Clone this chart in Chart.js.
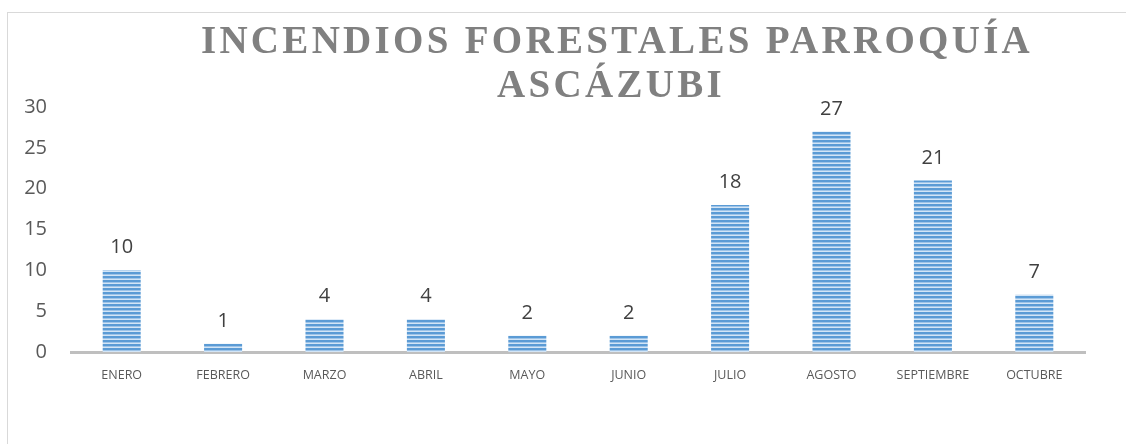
<!DOCTYPE html>
<html>
<head>
<meta charset="utf-8">
<script src="https://cdn.jsdelivr.net/npm/chart.js@4"></script>
<style>
  html, body { margin: 0; padding: 0; background: #fff; overflow: hidden; }
  #wrap { position: relative; width: 1126px; height: 444px; }
  #frame { position: absolute; left: 7px; top: 12px; width: 1200px; height: 500px;
           border-left: 1px solid #d9d9d9; border-top: 1px solid #d9d9d9; }
  canvas { position: absolute; left: 0; top: 0; }
</style>
</head>
<body>
<div id="wrap">
  <div id="frame"></div>
  <canvas id="incendios" width="1126" height="444"></canvas>
</div>
<script>
// datos del grafico
const meses = ['ENERO', 'FEBRERO', 'MARZO', 'ABRIL', 'MAYO', 'JUNIO', 'JULIO', 'AGOSTO', 'SEPTIEMBRE', 'OCTUBRE'];
const incendios = [10, 1, 4, 4, 2, 2, 18, 27, 21, 7];
const tituloLineas = ['INCENDIOS FORESTALES PARROQUÍA', 'ASCÁZUBI'];
const ejeY = { min: 0, max: 30, paso: 5 };

// patron de rayas horizontales para las barras
const makeStripes = () => {
	const c = document.createElement('canvas');
	c.width = 4; c.height = 4;
	const g = c.getContext('2d');
	g.fillStyle = '#5b9bd5'; g.fillRect(0, 0, 4, 2);
	g.fillStyle = '#9ec4e8'; g.fillRect(0, 2, 4, 1);
	g.fillStyle = '#d3e5f6'; g.fillRect(0, 3, 4, 1);
	return g.createPattern(c, 'repeat');
};

// titulo con espaciado entre letras
const titlePlugin = {
	id: 'tituloEspaciado',
	afterDraw(chart) {
		const ctx = chart.ctx;
		ctx.save();
		ctx.font = 'bold 39px "Liberation Serif", "DejaVu Serif", serif';
		ctx.fillStyle = '#808080';
		ctx.textAlign = 'center';
		ctx.textBaseline = 'alphabetic';
		if ('letterSpacing' in ctx) ctx.letterSpacing = '3.3px';
		ctx.fillText(tituloLineas[0], 617, 53);
		ctx.fillText(tituloLineas[1], 611, 97);
		ctx.restore();
	}
};

// etiquetas de valor encima de cada barra
const valueLabels = {
	id: 'valoresBarras',
	afterDatasetsDraw(chart) {
		const ctx = chart.ctx;
		const meta = chart.getDatasetMeta(0);
		ctx.save();
		ctx.font = '20px "Open Sans", sans-serif';
		ctx.fillStyle = '#404040';
		ctx.textAlign = 'center';
		ctx.textBaseline = 'alphabetic';
		meta.data.forEach((bar, i) => {
			ctx.fillText(String(incendios[i]), bar.x, bar.y - 17);
		});
		ctx.restore();
	}
};

const ctx = document.getElementById('incendios').getContext('2d');
new Chart(ctx, {
	type: 'bar',
	data: {
		labels: meses,
		datasets: [{
			label: 'Incendios',
			data: incendios,
			backgroundColor: makeStripes(),
			borderWidth: 0,
			barPercentage: 0.75,
			categoryPercentage: 0.5
		}]
	},
	options: {
		responsive: false,
		animation: false,
		layout: { padding: { top: 107, right: 41, left: 0, bottom: 0 } },
		plugins: {
			legend: { display: false },
			title: { display: false },
			tooltip: { enabled: false }
		},
		scales: {
			x: {
				grid: { display: false, drawTicks: false },
				border: { display: true, color: '#bfbfbf', width: 3 },
				ticks: {
					color: '#595959',
					font: { family: '"Open Sans", sans-serif', size: 12.5 },
					padding: 16,
					maxRotation: 0,
					autoSkip: false
				},
				afterFit: (scale) => { scale.height = 92; }
			},
			y: {
				min: ejeY.min,
				max: ejeY.max,
				grid: { display: false, drawTicks: false },
				border: { display: false },
				ticks: {
					stepSize: ejeY.paso,
					color: '#595959',
					font: { family: '"Open Sans", sans-serif', size: 20 },
					padding: 24
				},
				afterFit: (scale) => { scale.width = 71; }
			}
		}
	},
	plugins: [titlePlugin, valueLabels]
});
</script>
</body>
</html>
